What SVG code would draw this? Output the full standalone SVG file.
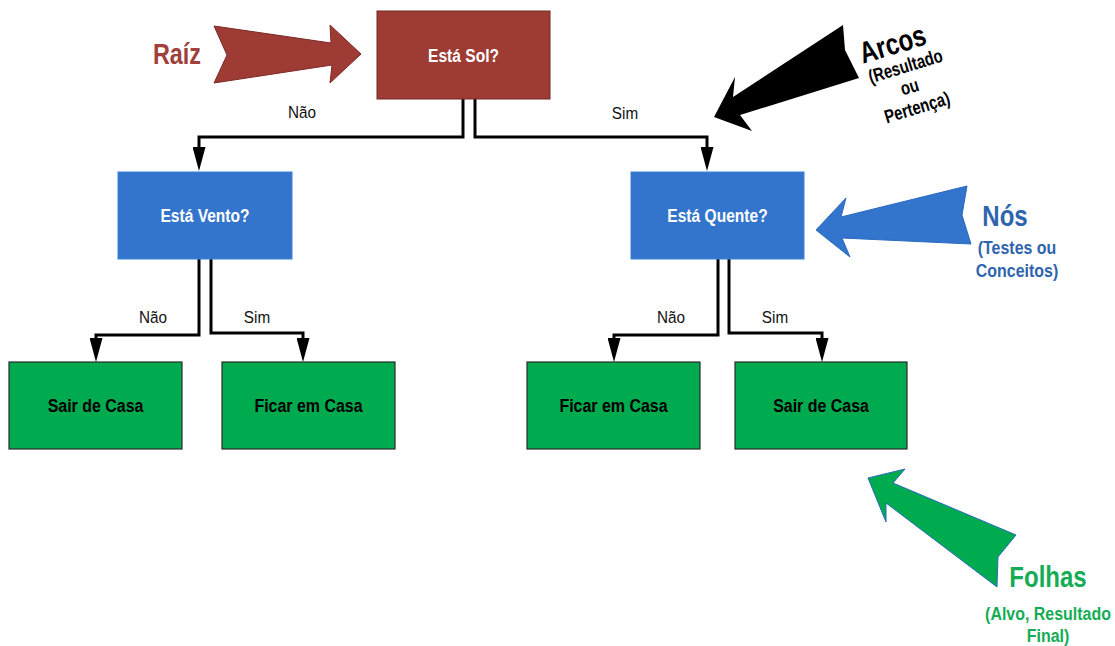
<svg xmlns="http://www.w3.org/2000/svg" width="1115" height="646" viewBox="0 0 1115 646">
  <style>
    text { font-family: "Liberation Sans", Arial, sans-serif; }
    .node-red { fill: #9E3B35; stroke: #6E2A26; stroke-width: 1; }
    .node-blue { fill: #3375CC; stroke: #3A80D8; stroke-width: 1; }
    .node-green { fill: #00AA4F; stroke: #2B2B2B; stroke-width: 1.2; }
    .node-label { font-size: 19px; font-weight: bold; text-anchor: middle; }
    .white { fill: #FFFFFF; }
    .black { fill: #000000; }
    .edge { fill: none; stroke: #000000; stroke-width: 3; stroke-linejoin: miter; }
    .edge-label { font-size: 17px; text-anchor: middle; fill: #111111; }
    .big { font-size: 30px; font-weight: bold; text-anchor: middle; }
    .small { font-size: 19px; font-weight: bold; text-anchor: middle; }
  </style>
  <defs>
    <marker id="head" markerUnits="userSpaceOnUse" viewBox="0 0 24 13" markerWidth="24" markerHeight="13" refX="12" refY="6.5" orient="auto">
      <path d="M0,0 L24,6.5 L0,13 Z" fill="#000000"/>
    </marker>
  </defs>

  <!-- connectors -->
  <g id="connectors">
    <path class="edge" d="M463,99 V137 H199 V159" marker-end="url(#head)"/>
    <path class="edge" d="M475,99 V137 H707 V159" marker-end="url(#head)"/>
    <path class="edge" d="M199,259 V335 H96 V350" marker-end="url(#head)"/>
    <path class="edge" d="M211,259 V333 H303 V350" marker-end="url(#head)"/>
    <path class="edge" d="M718,259 V335 H614 V350" marker-end="url(#head)"/>
    <path class="edge" d="M729,259 V333 H822 V350" marker-end="url(#head)"/>
    <text class="edge-label" transform="translate(302,118) scale(0.9,1)">Não</text>
    <text class="edge-label" transform="translate(625,119) scale(0.9,1)">Sim</text>
    <text class="edge-label" transform="translate(153,323) scale(0.9,1)">Não</text>
    <text class="edge-label" transform="translate(257,323) scale(0.9,1)">Sim</text>
    <text class="edge-label" transform="translate(671,323) scale(0.9,1)">Não</text>
    <text class="edge-label" transform="translate(775,323) scale(0.9,1)">Sim</text>
  </g>

  <!-- tree nodes -->
  <g id="node-sol">
    <rect class="node-red" x="377" y="11" width="173" height="88"/>
    <text class="node-label white" transform="translate(463.5,62) scale(0.82,1)">Está Sol?</text>
  </g>
  <g id="node-vento">
    <rect class="node-blue" x="118" y="172" width="174" height="87"/>
    <text class="node-label white" transform="translate(205,222) scale(0.82,1)">Está Vento?</text>
  </g>
  <g id="node-quente">
    <rect class="node-blue" x="631" y="172" width="173" height="87"/>
    <text class="node-label white" transform="translate(717.5,222) scale(0.82,1)">Está Quente?</text>
  </g>
  <g id="leaf-sair-1">
    <rect class="node-green" x="9" y="362" width="173" height="87"/>
    <text class="node-label black" transform="translate(95.5,412) scale(0.84,1)">Sair de Casa</text>
  </g>
  <g id="leaf-ficar-1">
    <rect class="node-green" x="222" y="362" width="173" height="87"/>
    <text class="node-label black" transform="translate(308.5,412) scale(0.84,1)">Ficar em Casa</text>
  </g>
  <g id="leaf-ficar-2">
    <rect class="node-green" x="527" y="362" width="173" height="87"/>
    <text class="node-label black" transform="translate(613.5,412) scale(0.84,1)">Ficar em Casa</text>
  </g>
  <g id="leaf-sair-2">
    <rect class="node-green" x="735" y="362" width="172" height="87"/>
    <text class="node-label black" transform="translate(821,412) scale(0.84,1)">Sair de Casa</text>
  </g>

  <!-- callout: root -->
  <g id="callout-raiz">
    <polygon points="214,26 331,43 330,25 361,54 330,83 332,65 214,83 227,55" fill="#9E3B35" stroke="#7A2C28" stroke-width="1"/>
    <text class="big" fill="#A0403A" transform="translate(177,64) scale(0.78,1)">Raíz</text>
  </g>

  <!-- callout: arcs -->
  <g id="callout-arcos">
    <polygon points="714,117 735,77 733,97 843,25 845,50 859,78 740,115 752,131" fill="#000000"/>
    <g transform="translate(905,75) rotate(-17)">
      <text class="big" fill="#000000" transform="translate(-3,-23) scale(0.8,1)">Arcos</text>
      <text class="small" fill="#000000" transform="translate(3,-2) scale(0.78,1)">(Resultado</text>
      <text class="small" fill="#000000" transform="translate(1,19) scale(0.78,1)">ou</text>
      <text class="small" fill="#000000" transform="translate(2,41) scale(0.78,1)">Pertença)</text>
    </g>
  </g>

  <!-- callout: nodes -->
  <g id="callout-nos">
    <polygon points="816,230 846,198 841,217 967,186 962,215 971,244 842,238 850,257" fill="#3375CC" stroke="#2A6AC0" stroke-width="1"/>
    <text class="big" fill="#2E64AE" transform="translate(1005,226) scale(0.8,1)">Nós</text>
    <text class="small" fill="#2E64AE" transform="translate(1017,254) scale(0.84,1)">(Testes ou</text>
    <text class="small" fill="#2E64AE" transform="translate(1017,277) scale(0.84,1)">Conceitos)</text>
  </g>

  <!-- callout: leaves -->
  <g id="callout-folhas">
    <polygon points="868,478 905,469 893,483 1016,535 998,557 997,587 886,503 886,522" fill="#00AA4F" stroke="#2A6AC0" stroke-width="1"/>
    <text class="big" fill="#14AD55" transform="translate(1048,587) scale(0.8,1)">Folhas</text>
    <text class="small" fill="#14AD55" transform="translate(1048,620) scale(0.84,1)">(Alvo, Resultado</text>
    <text class="small" fill="#14AD55" transform="translate(1048,642) scale(0.84,1)">Final)</text>
  </g>
</svg>
